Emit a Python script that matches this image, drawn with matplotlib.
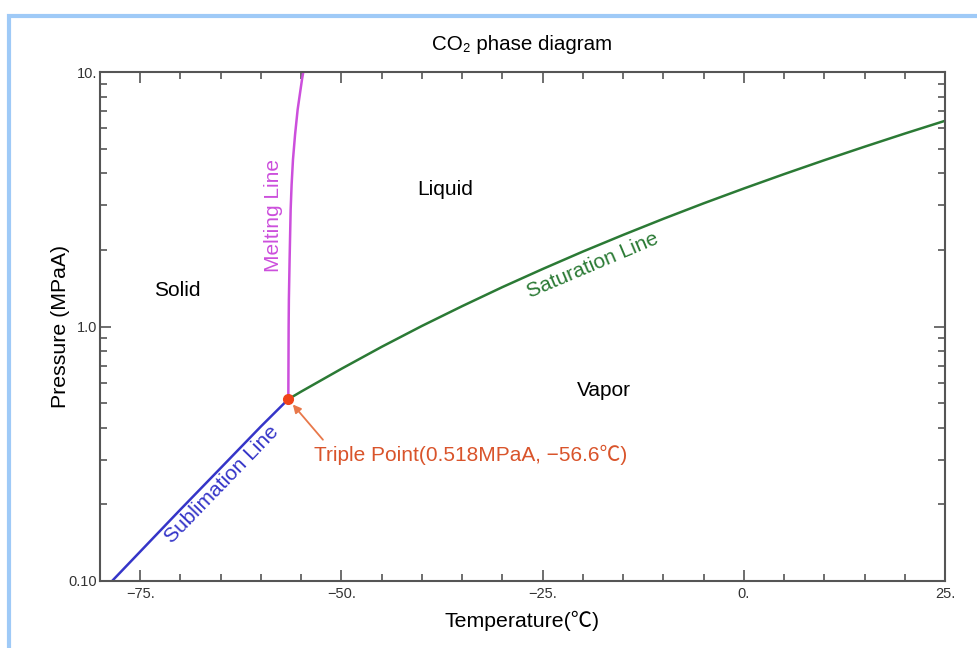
import matplotlib
matplotlib.use("Agg")
import matplotlib.pyplot as plt
from matplotlib.patches import Rectangle
from matplotlib.ticker import FixedLocator, FixedFormatter

plt.rcParams['font.family'] = ['Liberation Sans', 'Noto Sans CJK JP', 'DejaVu Sans']

# sublimation line (solid / vapor)
subl_t = [-78.5, -70.0, -65.0, -60.0, -56.6]
subl_p = [0.100, 0.191, 0.278, 0.405, 0.518]

# melting line (solid / liquid)
melt_t = [-56.6, -56.56, -56.53, -56.44, -56.31, -56.19, -56.02, -55.76, -55.44, -55.08, -54.90, -54.74]
melt_p = [0.518, 1.0, 1.277, 1.83, 2.88, 3.61, 4.53, 5.68, 7.12, 8.54, 9.34, 10.0]

# saturation line (liquid / vapor)
sat_t = [-56.6, -55.0, -50.0, -45.0, -40.0, -35.0, -30.0, -25.0, -20.0, -15.0,
         -10.0, -5.0, 0.0, 5.0, 10.0, 15.0, 20.0, 25.0]
sat_p = [0.518, 0.555, 0.682, 0.832, 1.005, 1.202, 1.428, 1.682, 1.970, 2.290,
         2.649, 3.047, 3.485, 3.969, 4.502, 5.086, 5.729, 6.43]

triple_t = -56.6
triple_p = 0.518

x_ticks = [-75, -50, -25, 0, 25]
x_labels = ["\u221275.", "\u221250.", "\u221225.", "0.", "25."]
y_ticks = [0.1, 1.0, 10.0]
y_labels = ["0.10", "1.0", "10."]

fig = plt.figure(figsize=(9.78, 6.48), dpi=100)
# light blue frame around the picture
fig.patches.append(Rectangle((8.5 / 978, -0.1), 1.2, 1 - 15.5 / 648 + 0.1,
                             transform=fig.transFigure, fill=False,
                             edgecolor="#9fcaf7", linewidth=3))

ax = fig.add_axes([100 / 978, 1 - 581 / 648, 845 / 978, 509 / 648])
ax.set_yscale("log")
ax.set_xlim(-80, 25)
ax.set_ylim(0.1, 10)

ax.plot(subl_t, subl_p, color="#3535c8", lw=1.8)
ax.plot(melt_t, melt_p, color="#cc4fdc", lw=1.8)
ax.plot(sat_t, sat_p, color="#2b7a35", lw=1.8)
ax.plot([triple_t], [triple_p], "o", color="#f0441a", ms=7, zorder=5)

# axis ticks
ax.xaxis.set_major_locator(FixedLocator(x_ticks))
ax.xaxis.set_major_formatter(FixedFormatter(x_labels))
ax.xaxis.set_minor_locator(FixedLocator(list(range(-80, 26, 5))))
ax.yaxis.set_major_locator(FixedLocator(y_ticks))
ax.yaxis.set_major_formatter(FixedFormatter(y_labels))
ax.yaxis.set_minor_locator(FixedLocator([m * d for d in (0.1, 1.0) for m in range(2, 10)]))
ax.tick_params(which="both", direction="in", top=True, right=True, color="#555555", width=1.2,
               labelsize=10.5, labelcolor="#333333")
ax.tick_params(which="major", length=8)
ax.tick_params(which="minor", length=5)
ax.tick_params(axis="x", pad=4)
ax.tick_params(axis="y", pad=2)
for s in ax.spines.values():
    s.set_color("#555555")
    s.set_linewidth(1.5)

ax.set_title("CO\u2082 phase diagram", fontsize=14.8, pad=16)
ax.set_xlabel("Temperature(\u2103)", fontsize=15.3, labelpad=7)
ax.set_ylabel("Pressure (MPaA)", fontsize=15.3, labelpad=-1)

# phase regions
ax.text(-70.4, 1.385, "Solid", fontsize=15, ha="center", va="center")
ax.text(-37.1, 3.45, "Liquid", fontsize=15, ha="center", va="center")
ax.text(-17.4, 0.56, "Vapor", fontsize=15, ha="center", va="center")

# curve labels
ax.text(-58.4, 2.73, "Melting Line", fontsize=15, color="#cc4fdc", rotation=90,
        ha="center", va="center")
ax.text(-64.9, 0.240, "Sublimation Line", fontsize=15, color="#3535c8", rotation=46,
        ha="center", va="center")
ax.text(-18.8, 1.74, "Saturation Line", fontsize=15, color="#2b7a35", rotation=23,
        ha="center", va="center")

ax.annotate("", xy=(triple_t, triple_p), xytext=(-52.3, 0.359),
            arrowprops=dict(arrowstyle="-|>", color="#e8784a", lw=1.3,
                            shrinkA=0, shrinkB=5, mutation_scale=12))
ax.text(-34.0, 0.314, "Triple Point(0.518MPaA, \u221256.6\u2103)", fontsize=15,
        color="#d9542b", ha="center", va="center")

fig.savefig("out.png", dpi=100)
